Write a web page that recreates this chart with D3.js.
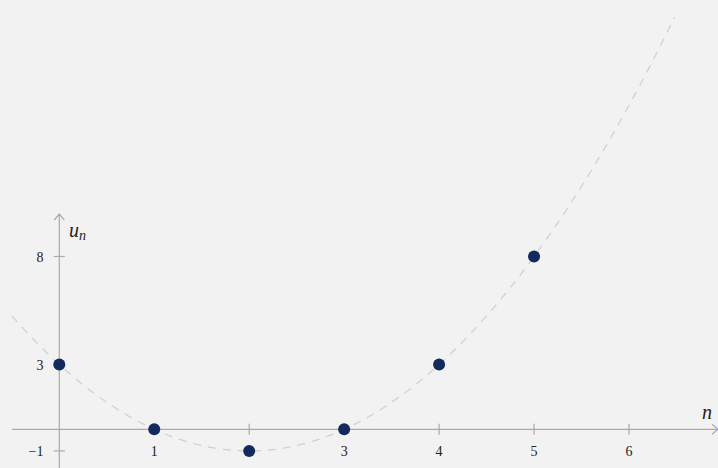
<!DOCTYPE html>
<html><head><meta charset="utf-8">
<script src="https://cdn.jsdelivr.net/npm/d3@7"></script>
<style>html,body{margin:0;padding:0;background:#f2f2f2;}svg{display:block;}</style>
</head><body>
<svg id="c" width="718" height="468"></svg>
<script>
const nValues = [0, 1, 2, 3, 4, 5];
const uValues = [3, 0, -1, 0, 3, 8];
const xTicks = [1, 2, 3, 4, 5, 6];
const xTickLabels = ["1", "", "3", "4", "5", "6"];
const yTicks = [-1, 3, 8];
const yTickLabels = ["\u22121", "3", "8"];
// dashed guide curve
const curveN = [-0.5,-0.25,0,0.25,0.5,0.75,1,1.25,1.5,1.75,2,2.25,2.5,2.75,3,3.25,3.5,3.75,4,4.25,4.5,4.75,5,5.25,5.5,5.75,6,6.25,6.48];
const curveU = [5.25,4.06,3,2.06,1.25,0.56,0,-0.44,-0.75,-0.94,-1,-0.94,-0.75,-0.44,0,0.56,1.25,2.06,3,4.06,5.25,6.56,8,9.56,11.25,13.06,15,17.06,19.07];

const svg = d3.select("#c");
const x = d3.scaleLinear().domain([0, 6]).range([59.3, 629]);
const y = d3.scaleLinear().domain([0, 8]).range([429.3, 256.5]);
const axisColor = "#aaaaaa";
const font = "'Liberation Serif','DejaVu Serif',serif";

svg.append("line").attr("x1", 12).attr("x2", 718).attr("y1", y(0)).attr("y2", y(0))
  .attr("stroke", axisColor).attr("stroke-width", 1.2);
svg.append("line").attr("x1", x(0)).attr("x2", x(0)).attr("y1", 214).attr("y2", 468)
  .attr("stroke", axisColor).attr("stroke-width", 1.2);
svg.append("path").attr("d", `M${x(0)-5},${220} L${x(0)},${214} L${x(0)+5},${220}`)
  .attr("fill", "none").attr("stroke", axisColor).attr("stroke-width", 1.2);
svg.append("path").attr("d", `M${712},${y(0)-5} L${718},${y(0)} L${712},${y(0)+5}`)
  .attr("fill", "none").attr("stroke", axisColor).attr("stroke-width", 1.2);

svg.selectAll(".xt").data(xTicks).join("line")
  .attr("x1", d => x(d)).attr("x2", d => x(d))
  .attr("y1", y(0) - 5.5).attr("y2", y(0) + 5.5)
  .attr("stroke", axisColor).attr("stroke-width", 1.2);
svg.selectAll(".xl").data(xTicks).join("text")
  .attr("x", d => x(d)).attr("y", 455.5)
  .attr("text-anchor", "middle").attr("font-family", font).attr("font-size", 14)
  .attr("fill", "#222").text((d, i) => xTickLabels[i]);

svg.selectAll(".yt").data(yTicks).join("line")
  .attr("x1", x(0) - 5.5).attr("x2", x(0) + 5.5)
  .attr("y1", d => y(d)).attr("y2", d => y(d))
  .attr("stroke", axisColor).attr("stroke-width", 1.2);
svg.selectAll(".yl").data(yTicks).join("text")
  .attr("x", 43.5).attr("y", d => y(d) + 5)
  .attr("text-anchor", "end").attr("font-family", font).attr("font-size", 14)
  .attr("fill", "#222").text((d, i) => yTickLabels[i]);

const line = d3.line().x((d, i) => x(curveN[i])).y((d, i) => y(curveU[i])).curve(d3.curveCatmullRom);
svg.append("path").datum(curveN).attr("d", line)
  .attr("fill", "none").attr("stroke", "#cfcfcf").attr("stroke-width", 1.2)
  .attr("stroke-dasharray", "8,7");

svg.selectAll(".pt").data(nValues).join("circle")
  .attr("cx", d => x(d)).attr("cy", (d, i) => y(uValues[i])).attr("r", 6)
  .attr("fill", "#132a5e");

const ul = svg.append("text").attr("x", 69).attr("y", 237)
  .attr("font-family", font).attr("font-style", "italic").attr("font-size", 20).attr("fill", "#222");
ul.append("tspan").text("u");
ul.append("tspan").attr("font-size", 14).attr("dy", 3).text("n");
svg.append("text").attr("x", 702).attr("y", 419)
  .attr("font-family", font).attr("font-style", "italic").attr("font-size", 20).attr("fill", "#222").text("n");
</script>
</body></html>
